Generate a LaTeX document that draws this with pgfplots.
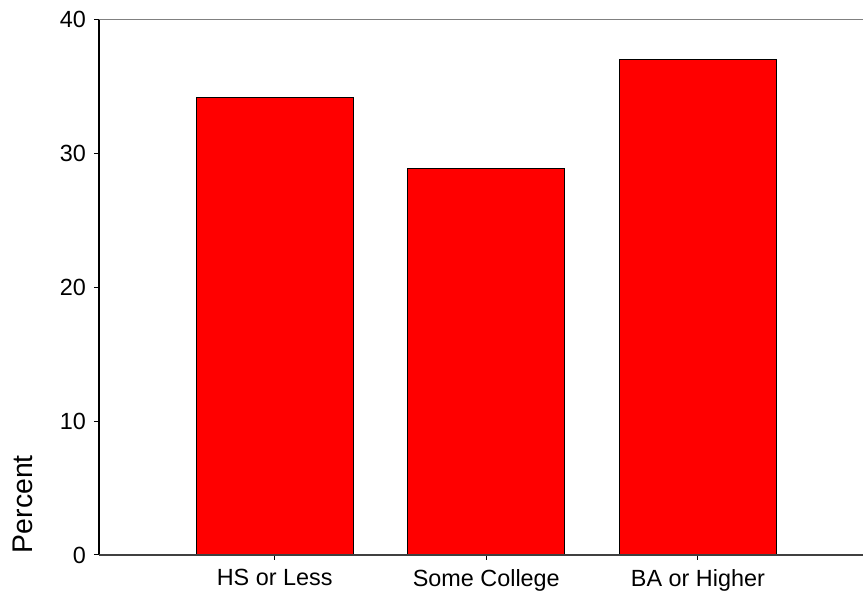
\documentclass[border=0pt]{standalone}
\usepackage{fontspec}
\setmainfont{Liberation Sans}
\usepackage{pgfplots}
\pgfplotsset{compat=1.18}
\begin{document}
\begin{tikzpicture}
\begin{axis}[
  name=ax,
  scale only axis,
  width=382pt, height=267.75pt,
  xmin=-0.83, xmax=2.78,
  ymin=0, ymax=40,
  ytick={0,10,20,30,40},
  xtick={0,1,2},
  xticklabels={HS or Less, Some College, BA or Higher},
  axis line style={draw=none},
  tick align=outside,
  major tick length=2.5pt,
  tick style={black, line width=0.5pt},
  xtick pos=bottom, ytick pos=left,
  /pgf/number format/assume math mode=true,
  tick label style={font=\fontsize{11.7}{14}\selectfont},
  yticklabel style={xshift=-0.5pt},
  xticklabel style={yshift=-1pt},
  ylabel={Percent},
  ylabel style={at={([xshift=-38.25pt]rel axis cs:0,0.095)}, anchor=center, font=\fontsize{14.2}{17}\selectfont},
  clip=false,
]
\addplot[ybar, bar width=78.5pt, fill={rgb,255:red,255;green,0;blue,0}, draw=black, line width=0.5pt]
  coordinates {(0,34.2) (1,28.87) (2,37.0)};
\draw[black, line width=0.6pt] (rel axis cs:0,0) -- (rel axis cs:0,1);
\draw[gray, line width=0.6pt] (rel axis cs:0,1) -- (rel axis cs:1,1);
\draw[darkgray, line width=0.6pt] (rel axis cs:0,0) -- (rel axis cs:1,0);
\end{axis}
\pgfresetboundingbox
\path ([shift={(-49.5pt,-19.5pt)}]ax.south west) rectangle ([shift={(0pt,9.75pt)}]ax.north east);
\end{tikzpicture}
\end{document}
